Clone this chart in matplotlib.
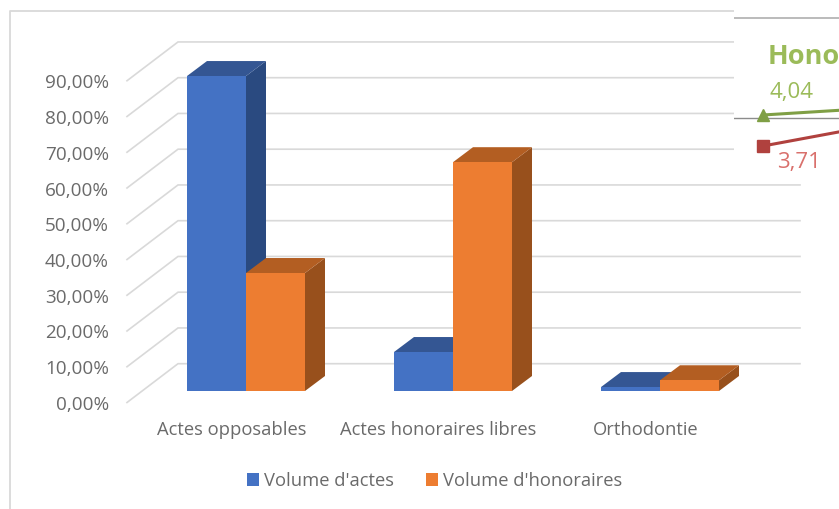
import matplotlib
matplotlib.use("Agg")
import matplotlib.pyplot as plt
from matplotlib.patches import Patch
from matplotlib.transforms import ScaledTranslation

categories = ["Actes opposables", "Actes honoraires libres", "Orthodontie"]
volume_actes = [88.1, 10.9, 1.1]
volume_honoraires = [33.0, 64.0, 3.0]
series_names = ["Volume d'actes", "Volume d'honoraires"]
y_ticks = [0, 10, 20, 30, 40, 50, 60, 70, 80, 90]
inset_x = [0, 1]
inset_green = [4.04, 4.09]
inset_red = [3.71, 3.86]

W, H = 839, 509
FONT = "Open Sans"
FS = 13.2
FS_Y = 13.6
TXT = "#6a6a6a"
GRID = "#d9d9d9"
plt.rcParams["font.family"] = [FONT, "DejaVu Sans"]

fig = plt.figure(figsize=(W / 100, H / 100), dpi=100, facecolor="white")

# outer chart frame
fig.add_artist(plt.Line2D([10 / W, 10 / W, 839 / W], [0, 1 - 11 / H, 1 - 11 / H],
                          color=GRID, lw=1.3, transform=fig.transFigure))

# main axes: front edge of the floor
L, R, Y0, Y90 = 127, 800, 402.5, 80.75
ax = fig.add_axes([L / W, 1 - Y0 / H, (R - L) / W, (Y0 - Y90) / H])
PX_X = 207.0
PX_Y = (Y0 - Y90) / 90
ax.set_xlim((L - 231.5) / PX_X, (R - 231.5) / PX_X)
ax.set_ylim(0, 90)
ax.patch.set_visible(False)
for s in ax.spines.values():
    s.set_visible(False)

# wall gridlines and floor diagonals
WALL_X, WALL_Y = 51 / PX_X, 38.8 / PX_Y
x0 = ax.get_xlim()[0]
x1 = ax.get_xlim()[1]
for v in y_ticks:
    ax.plot([x0, x0 + WALL_X, x1], [v, v + WALL_Y, v + WALL_Y],
            color=GRID, lw=1.2, zorder=1, clip_on=False, solid_joinstyle="miter")

# 3D bars
BASE_X, BASE_Y = 14.5 / PX_X, 11.5 / PX_Y
DX, DY = 20 / PX_X, 15 / PX_Y
BW = 59 / PX_X


def bar3d(c, offset, value, front, side, top, z):
    a = c + BASE_X + offset
    b = a + BW
    lo = BASE_Y
    hi = BASE_Y + value
    ax.fill([b, b + DX, b + DX, b], [lo, lo + DY, hi + DY, hi], color=side, lw=0, zorder=z, clip_on=False)
    ax.fill([a, a + DX, b + DX, b], [hi, hi + DY, hi + DY, hi], color=top, lw=0, zorder=z, clip_on=False)
    ax.fill([a, b, b, a], [lo, lo, hi, hi], color=front, lw=0, zorder=z + 0.1, clip_on=False)


for i in range(len(categories)):
    bar3d(i, -BW, volume_actes[i], "#4472C4", "#2A4A80", "#345693", 3 + i)
    bar3d(i, 0, volume_honoraires[i], "#ED7D31", "#98501C", "#B35E22", 3.5 + i)

ax.set_yticks(y_ticks)
ax.set_yticklabels([f"{v},00%" for v in y_ticks], fontsize=FS_Y, color=TXT)
ax.set_xticks(range(len(categories)))
ax.set_xticklabels(categories, fontsize=FS, color=TXT)
ax.tick_params(axis="both", length=0)
ax.tick_params(axis="y", pad=13)
ax.tick_params(axis="x", pad=13)
shift = ScaledTranslation(0, -0.5 / 100, fig.dpi_scale_trans)
for lab in ax.get_yticklabels():
    lab.set_transform(lab.get_transform() + shift)

ax.legend(handles=[Patch(color="#4472C4", lw=0, label=series_names[0]),
                   Patch(color="#ED7D31", lw=0, label=series_names[1])],
          loc="center left", bbox_to_anchor=(247 / W, 1 - 481 / H),
          bbox_transform=fig.transFigure, frameon=False, ncol=2, fontsize=FS,
          labelcolor=TXT, handlelength=0.66, handleheight=0.66, handletextpad=0.27,
          columnspacing=1.75, borderpad=0, borderaxespad=0)

# pasted fragment of another chart, top right
ILEFT, IRIGHT, IBOT = 734, 839, 165
PXU = (146 - 115) / (4.04 - 3.71)
val = lambda p: 4.04 + (115 - p) / PXU
ins = fig.add_axes([ILEFT / W, 1 - IBOT / H, (IRIGHT - ILEFT) / W, IBOT / H], zorder=5)
ins.set_xlim(-(763 - ILEFT) / 76, 1)
ins.set_ylim(val(IBOT), val(0))
ins.set_xticks([])
ins.set_yticks([])
for s in ins.spines.values():
    s.set_visible(False)
ins.axhline(val(18), color="#b5b5b5", lw=1.3)
ins.axhline(val(118), color="#8c8c8c", lw=1.0)
ins.plot(inset_x, inset_green, color="#7F9F45", lw=2.2, marker="^", ms=8, markevery=[0])
ins.plot(inset_x, inset_red, color="#B0413E", lw=2.2, marker="s", ms=8, markevery=[0])
ins.annotate("Hono", (0, val(57)), xytext=(5, 0), textcoords="offset pixels", va="center",
             ha="left", color="#9BBB59", fontsize=19.5, fontweight="bold", family=FONT)
ins.annotate("4,04", (0, inset_green[0]), xytext=(7, 23), textcoords="offset pixels", va="center",
             ha="left", color="#9BBB59", fontsize=16)
ins.annotate("3,71", (0, inset_red[0]), xytext=(14, -16), textcoords="offset pixels", va="center",
             ha="left", color="#D9706C", fontsize=16)

fig.savefig("out.png", dpi=100)
